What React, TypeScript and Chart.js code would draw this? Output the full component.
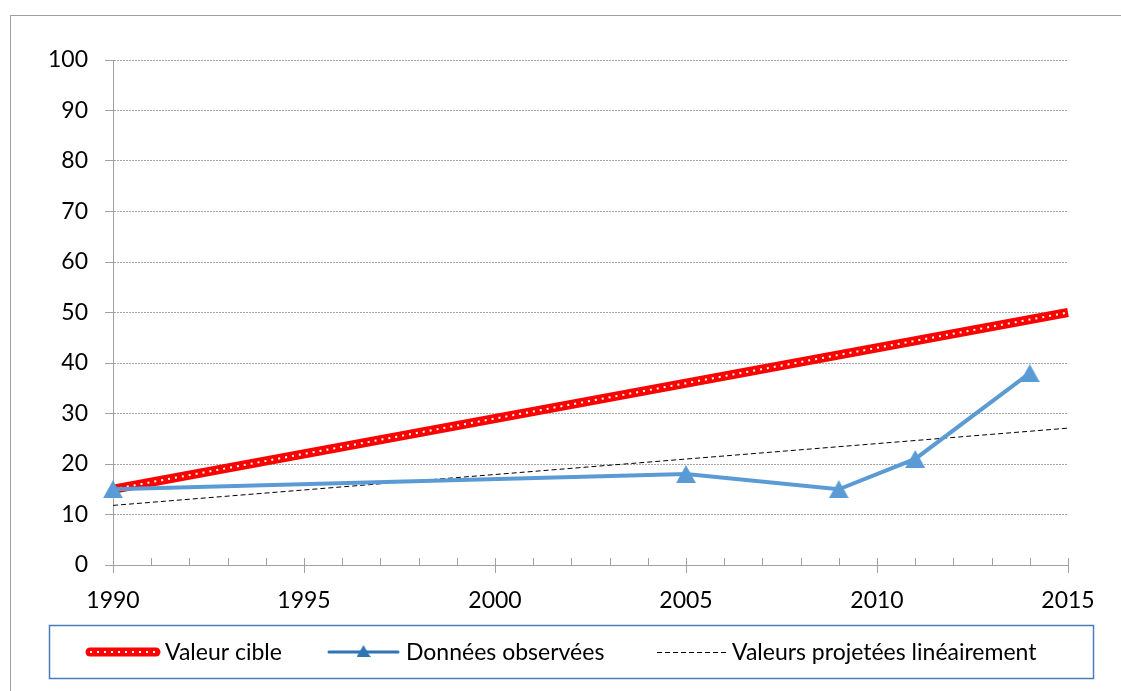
import React, { useEffect, useRef } from "react";
import { Chart, registerables } from "chart.js";

Chart.register(...registerables);

// ---- Data ----
const xMin = 1990;
const xMax = 2015;
const xStep = 5;
const yMin = 0;
const yMax = 100;
const yStep = 10;

const targetYears = [1990, 2015];
const targetValues = [15, 50];

const observedYears = [1990, 2005, 2009, 2011, 2014];
const observedValues = [15, 18, 15, 21, 38];

const projectedYears = [1990, 2015];
const projectedValues = [11.8, 27.1];

const seriesLabels = ["Valeur cible", "Données observées", "Valeurs projetées linéairement"];

// ---- Styles ----
const FONT = "Lato, 'Open Sans', 'DejaVu Sans', sans-serif";
const FONT_SIZE = 23;
const RED = "#ff0000";
const BLUE = "#5b9bd5";
const BLUE_LEGEND = "#2e75b6";
const AXIS = "#a0a0a0";
const GRID = "#a6a6a6";

function makeTriangle(w: number, h: number, color: string): HTMLCanvasElement {
  const c = document.createElement("canvas");
  c.width = w;
  c.height = h;
  const ctx = c.getContext("2d")!;
  ctx.fillStyle = color;
  ctx.beginPath();
  ctx.moveTo(w / 2, 0);
  ctx.lineTo(w, h);
  ctx.lineTo(0, h);
  ctx.closePath();
  ctx.fill();
  return c;
}

const toPoints = (xs: number[], ys: number[]) => xs.map((x, i) => ({ x, y: ys[i] }));

export default function App() {
  const ref = useRef<HTMLCanvasElement | null>(null);

  useEffect(() => {
    const canvas = ref.current;
    if (!canvas) return;
    const triangle = makeTriangle(20, 18, BLUE);
    const legendTriangle = makeTriangle(14, 12, BLUE_LEGEND);

    const decorPlugin = {
      id: "decor",
      beforeDatasetsDraw(chart: any) {
        const { ctx, chartArea } = chart;
        const xs = chart.scales.x;
        ctx.save();
        ctx.strokeStyle = AXIS;
        ctx.lineWidth = 1;
        ctx.beginPath();
        for (let yr = xMin; yr <= xMax; yr++) {
          const px = Math.round(xs.getPixelForValue(yr)) + 0.5;
          const major = yr % xStep === 0;
          ctx.moveTo(px, chartArea.bottom - 7);
          ctx.lineTo(px, major ? chartArea.bottom + 8 : chartArea.bottom);
        }
        ctx.stroke();
        ctx.restore();
      },
      afterDatasetDraw(chart: any, args: any) {
        if (args.index !== 0) return;
        const pts = args.meta.data;
        const { ctx } = chart;
        ctx.save();
        ctx.strokeStyle = "#ffffff";
        ctx.lineWidth = 2;
        ctx.setLineDash([2, 5]);
        ctx.beginPath();
        pts.forEach((p: any, i: number) => (i === 0 ? ctx.moveTo(p.x, p.y) : ctx.lineTo(p.x, p.y)));
        ctx.stroke();
        ctx.restore();
      },
      afterDraw(chart: any) {
        const { ctx } = chart;
        ctx.save();
        // outer frame
        ctx.strokeStyle = AXIS;
        ctx.lineWidth = 1;
        ctx.strokeRect(10.5, 15.5, 1200, 800);

        // legend box
        ctx.strokeStyle = "#4a7ebb";
        ctx.lineWidth = 1.5;
        ctx.strokeRect(49.5, 625.5, 1044, 53);

        const cy = 652;
        ctx.font = `${FONT_SIZE}px ${FONT}`;
        ctx.fillStyle = "#000";
        ctx.textBaseline = "middle";
        ctx.textAlign = "left";

        // Valeur cible
        ctx.strokeStyle = RED;
        ctx.lineWidth = 9;
        ctx.lineCap = "round";
        ctx.beginPath();
        ctx.moveTo(90, cy);
        ctx.lineTo(156, cy);
        ctx.stroke();
        ctx.strokeStyle = "#fff";
        ctx.lineWidth = 2;
        ctx.lineCap = "butt";
        ctx.setLineDash([2, 5]);
        ctx.beginPath();
        ctx.moveTo(90, cy);
        ctx.lineTo(158, cy);
        ctx.stroke();
        ctx.setLineDash([]);
        ctx.fillText(seriesLabels[0], 165, cy + 1);

        // Données observées
        ctx.strokeStyle = BLUE_LEGEND;
        ctx.lineWidth = 3;
        ctx.lineCap = "round";
        ctx.beginPath();
        ctx.moveTo(329, cy);
        ctx.lineTo(398, cy);
        ctx.stroke();
        ctx.drawImage(legendTriangle, 363.5 - 7, cy - 7);
        ctx.fillText(seriesLabels[1], 406, cy + 1);

        // Valeurs projetées
        ctx.strokeStyle = "#000";
        ctx.lineWidth = 1;
        ctx.lineCap = "butt";
        ctx.setLineDash([5, 3]);
        ctx.beginPath();
        ctx.moveTo(657, cy + 0.5);
        ctx.lineTo(728, cy + 0.5);
        ctx.stroke();
        ctx.setLineDash([]);
        ctx.fillText(seriesLabels[2], 732, cy + 1);

        ctx.restore();
      },
    };

    const chart = new Chart(canvas, {
      type: "line",
      data: {
        datasets: [
          {
            label: seriesLabels[0],
            data: toPoints(targetYears, targetValues),
            borderColor: RED,
            borderWidth: 9,
            pointRadius: 0,
            order: 1,
            clip: false,
          },
          {
            label: seriesLabels[1],
            data: toPoints(observedYears, observedValues),
            borderColor: BLUE,
            backgroundColor: BLUE,
            borderWidth: 4,
            pointStyle: triangle,
            pointRadius: 10,
            order: 0,
            clip: false,
          },
          {
            label: seriesLabels[2],
            data: toPoints(projectedYears, projectedValues),
            borderColor: "#000000",
            borderWidth: 1,
            borderDash: [5, 3],
            pointRadius: 0,
            order: 2,
            clip: false,
          },
        ] as any,
      },
      options: {
        animation: false,
        responsive: false,
        events: [],
        layout: { padding: { top: 60, right: 53, left: 0, bottom: 0 } },
        plugins: {
          legend: { display: false },
          tooltip: { enabled: false },
          title: { display: false },
        },
        scales: {
          x: {
            type: "linear",
            min: xMin,
            max: xMax,
            ticks: {
              stepSize: xStep,
              padding: 22,
              color: "#000",
              maxRotation: 0,
              font: { family: FONT, size: FONT_SIZE },
              callback: (v: any) => String(v),
            },
            grid: { display: false, drawTicks: false },
            border: { display: true, color: AXIS, width: 1 },
            afterFit: (s: any) => {
              s.height = 126;
            },
          },
          y: {
            min: yMin,
            max: yMax,
            ticks: {
              stepSize: yStep,
              padding: 17,
              color: "#000",
              font: { family: FONT, size: FONT_SIZE },
              callback: (v: any) => String(v),
            },
            grid: {
              color: GRID,
              lineWidth: 1,
              drawTicks: true,
              tickLength: 8,
              tickColor: AXIS,
              tickBorderDash: [],
            },
            border: { display: true, color: AXIS, width: 1, dash: [2, 1] },
            afterFit: (s: any) => {
              s.width = 113;
            },
          },
        },
      } as any,
      plugins: [decorPlugin],
    });

    return () => chart.destroy();
  }, []);

  return (
    <canvas
      ref={ref}
      width={1121}
      height={691}
      style={{ position: "fixed", left: 0, top: 0, width: "1121px", height: "691px" }}
    />
  );
}
